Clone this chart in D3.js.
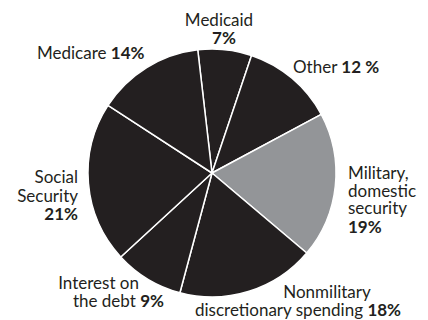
<!DOCTYPE html>
<html>
<head>
<meta charset="utf-8">
<script src="https://cdn.jsdelivr.net/npm/d3@7"></script>
<style>
  html, body { margin: 0; padding: 0; background: #fff; }
  svg { display: block; }
  text { font-family: Lato, "Open Sans", sans-serif; font-size: 17px; fill: #231f20; }
  .pct { font-weight: bold; }
</style>
</head>
<body>
<svg id="chart" width="428" height="320"></svg>
<script>
// Federal spending shares, clockwise from the top
const categories = ["Medicaid", "Other", "Military, domestic security", "Nonmilitary discretionary spending", "Interest on the debt", "Social Security", "Medicare"];
const shares = [7, 12, 19, 18, 9, 21, 14];
const highlighted = ["Military, domestic security"];

// Label lines per category; the bold part holds the share
const labelLines = [
  [["Medicaid", ""], ["", "7%"]],
  [["Other ", "12 %"]],
  [["Military,", ""], ["domestic", ""], ["security", ""], ["", "19%"]],
  [["Nonmilitary", ""], ["discretionary spending ", "18%"]],
  [["Interest on", ""], ["the debt ", "9%"]],
  [["Social", ""], ["Security", ""], ["", "21%"]],
  [["Medicare ", "14%"]]
];

// Placement of each label line: x, baseline, anchor
const labelLayout = [
  [{ x: 219, y: 26, a: "middle" }, { x: 224, y: 44, a: "middle" }],
  [{ x: 293, y: 73, a: "start" }],
  [{ x: 348, y: 179, a: "start" }, { x: 348, y: 197, a: "start" }, { x: 348, y: 214, a: "start" }, { x: 348, y: 233, a: "start" }],
  [{ x: 327, y: 298, a: "middle" }, { x: 298, y: 316, a: "middle" }],
  [{ x: 139, y: 289, a: "end" }, { x: 164, y: 307, a: "end" }],
  [{ x: 78, y: 183, a: "end" }, { x: 78, y: 202, a: "end" }, { x: 78, y: 220, a: "end" }],
  [{ x: 37, y: 59, a: "start" }]
];

const cx = 212, cy = 173, radius = 124;
const startAngle = -6.6 * Math.PI / 180;

const svg = d3.select("#chart");
const g = svg.append("g").attr("transform", `translate(${cx},${cy})`);

const pie = d3.pie()
  .value(d => d.value)
  .sort(null)
  .startAngle(startAngle)
  .endAngle(startAngle + 2 * Math.PI);

const arc = d3.arc().innerRadius(0).outerRadius(radius);

const data = categories.map((c, i) => ({ name: c, value: shares[i] }));

g.selectAll("path.slice")
  .data(pie(data))
  .join("path")
  .attr("class", "slice")
  .attr("d", arc)
  .attr("fill", d => highlighted.includes(d.data.name) ? "#939598" : "#231f20")
  .attr("stroke", "#fff")
  .attr("stroke-width", 1.5)
  .attr("stroke-linejoin", "round");

// One text element per category, one tspan group per line
const labels = svg.append("g");
labelLines.forEach((lines, i) => {
  const t = labels.append("text");
  lines.forEach((parts, j) => {
    const pos = labelLayout[i][j];
    const line = t.append("tspan")
      .attr("x", pos.x)
      .attr("y", pos.y)
      .attr("text-anchor", pos.a);
    if (parts[0]) line.append("tspan").text(parts[0]);
    if (parts[1]) line.append("tspan").attr("class", "pct").text(parts[1]);
  });
});
</script>
</body>
</html>
